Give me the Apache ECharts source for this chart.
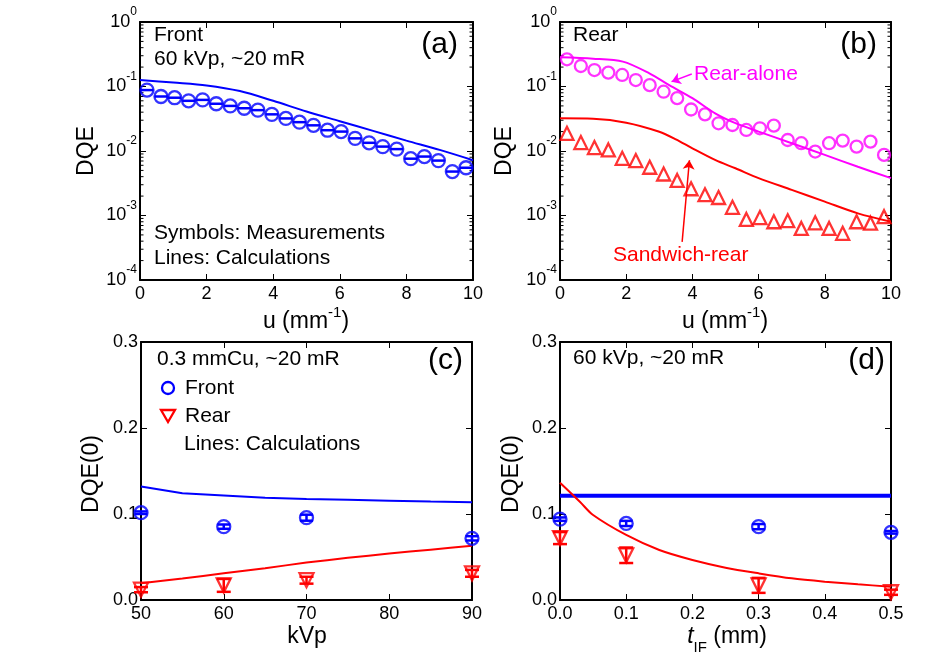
<!DOCTYPE html>
<html><head><meta charset="utf-8">
<script src="https://cdn.jsdelivr.net/npm/echarts@6/dist/echarts.min.js"></script>
<style>html,body{margin:0;padding:0;background:#fff}#c{width:931px;height:667px}</style>
</head><body><div id="c"></div>
<script>
// ---------- data ----------
// panel (a) Front, 60 kVp
const uMeas = [0.21,0.63,1.04,1.46,1.88,2.29,2.71,3.13,3.54,3.96,4.38,4.79,5.21,5.63,6.04,6.46,6.88,7.29,7.71,8.13,8.54,8.96,9.38,9.79];
const frontMeas = [0.088,0.070,0.067,0.060,0.062,0.054,0.050,0.046,0.043,0.037,0.032,0.028,0.025,0.021,0.020,0.0157,0.0134,0.0117,0.0107,0.0076,0.0082,0.0071,0.0048,0.0055];
const uCalcA = [0,1,2,3,4,5,6,7,8,9,10];
const frontCalc = [0.126,0.115,0.104,0.085,0.060,0.041,0.029,0.0205,0.0145,0.0104,0.0072];
// panel (b) Rear
const rearAloneMeas = [0.264,0.208,0.180,0.164,0.151,0.126,0.105,0.083,0.066,0.044,0.037,0.0269,0.0253,0.0212,0.0225,0.0247,0.0148,0.0132,0.0098,0.0132,0.0145,0.0117,0.0140,0.0087];
const sandRearMeas = [0.0188,0.0135,0.0113,0.0104,0.0077,0.0071,0.0056,0.0044,0.0035,0.0026,0.0021,0.0019,0.00134,0.00087,0.00093,0.00080,0.00083,0.00063,0.00077,0.00063,0.00053,0.00080,0.00076,0.00096];
const uCalcRear = [0,1.0,1.9,2.7,3.3,4.0,4.7,5.3,6.0,7.0,8.0,9.0,10];
const rearAloneCalc = [0.283,0.270,0.243,0.160,0.105,0.066,0.038,0.027,0.020,0.0132,0.0087,0.0057,0.0038];
const uCalcSand = [0,1.0,2.0,3.0,3.5,4.0,4.7,5.3,6.0,7.0,8.0,9.0,10];
const sandRearCalc = [0.0321,0.0316,0.0275,0.0199,0.0152,0.0110,0.0072,0.0054,0.0038,0.0025,0.00164,0.00108,0.0008];
// panel (c) vs kVp
const kvpMeas = [50,60,70,90];
const frontC = [0.1015,0.0853,0.0957,0.0717];
const frontCErr = [0.0015,0.0025,0.0035,0.0025];
const rearC = [0.012,0.017,0.023,0.031];
const rearCErr = [0.003,0.0075,0.004,0.004];
const kvpCalc = [50,55,60,65,70,75,80,85,90];
const frontCalcC = [0.132,0.124,0.1215,0.119,0.1175,0.1165,0.1155,0.1145,0.1136];
const rearCalcC = [0.0195,0.025,0.031,0.037,0.0435,0.049,0.054,0.0585,0.063];
// panel (d) vs t_IF
const tMeas = [0,0.1,0.3,0.5];
const frontD = [0.094,0.089,0.0853,0.0787];
const frontDErr = [0.002,0.003,0.003,0.0015];
const rearD = [0.072,0.052,0.017,0.009];
const rearDErr = [0.007,0.009,0.0087,0.003];
const tCalcFront = [0,0.5];
const frontCalcD = [0.1213,0.1213];
const tCalc = [0,0.03,0.05,0.1,0.15,0.2,0.25,0.3,0.35,0.4,0.45,0.5];
const rearCalcD = [0.1364,0.1143,0.0988,0.0756,0.0581,0.0465,0.0376,0.031,0.0252,0.0213,0.0182,0.0155];
// log-axis minor tick positions
const minorMant = [2,3,4,5,6,7,8,9];
const decades = [1e-4,1e-3,1e-2,1e-1];

// ---------- helpers ----------
const F = '"Liberation Sans", Arial, Helvetica, sans-serif';
const BLUE = '#0000FF', RED = '#FF0000', MAG = '#FF00FF';
const zip = (a, b) => a.map((v, i) => [v, b[i]]);
const errRows = (x, y, e) => x.map((v, i) => [v, y[i], y[i] - e[i], y[i] + e[i]]);
const minorTicks = [];
decades.forEach(d => minorMant.forEach(m => minorTicks.push([0, m * d])));

const grids = [
  {left:140, top:22, width:333, height:258},
  {left:560, top:22, width:331, height:258},
  {left:141, top:342, width:331, height:258},
  {left:560, top:342, width:331, height:258}
];

const axLine = {show:true, onZero:false, lineStyle:{color:'#000', width:2}};
const axTick = {show:true, inside:true, length:6, lineStyle:{color:'#000', width:1}};
const lblBase = {fontSize:18, fontFamily:F, color:'#000'};

function xAx(g, min, max, interval, fmt) {
  return [
    {gridIndex:g, type:'value', min, max, interval, position:'bottom', axisLine:axLine, axisTick:axTick, splitLine:{show:false},
     axisLabel:Object.assign({show:true, margin:5, formatter:fmt}, lblBase)},
    {gridIndex:g, type:'value', min, max, interval, position:'top', axisLine:axLine, axisTick:axTick, splitLine:{show:false}, axisLabel:{show:false}}
  ];
}
function yLog(g) {
  return [
    {gridIndex:g, type:'log', logBase:10, min:1e-4, max:1, position:'left', axisLine:axLine, axisTick:axTick, splitLine:{show:false},
     axisLabel:{show:true, margin:3, fontFamily:F, color:'#000',
       formatter: v => '{b|10}{s|' + Math.round(Math.log10(v)) + '}',
       rich:{b:{fontSize:18, fontFamily:F, color:'#000'}, s:{fontSize:12, fontFamily:F, color:'#000', padding:[0,0,20,0]}}}},
    {gridIndex:g, type:'log', logBase:10, min:1e-4, max:1, position:'right', axisLine:axLine, axisTick:axTick, splitLine:{show:false}, axisLabel:{show:false}}
  ];
}
function yLin(g) {
  return [
    {gridIndex:g, type:'value', min:0, max:0.3, interval:0.1, position:'left', axisLine:axLine, axisTick:axTick, splitLine:{show:false},
     axisLabel:Object.assign({show:true, margin:3, formatter: v => v.toFixed(1)}, lblBase)},
    {gridIndex:g, type:'value', min:0, max:0.3, interval:0.1, position:'right', axisLine:axLine, axisTick:axTick, splitLine:{show:false}, axisLabel:{show:false}}
  ];
}

function errSeries(x, y, e, color, ax, hw) {
  return {type:'custom', xAxisIndex:ax, yAxisIndex:ax, data:errRows(x, y, e), encode:{x:0, y:[1,2,3]}, z:3,
    renderItem:(params, api) => {
      const xv = api.value(0);
      const a = api.coord([xv, api.value(2)]), b = api.coord([xv, api.value(3)]);
      const st = {stroke:color, lineWidth:2.5};
      return {type:'group', children:[
        {type:'line', shape:{x1:a[0], y1:a[1], x2:b[0], y2:b[1]}, style:st},
        {type:'line', shape:{x1:a[0]-hw, y1:a[1], x2:a[0]+hw, y2:a[1]}, style:st},
        {type:'line', shape:{x1:b[0]-hw, y1:b[1], x2:b[0]+hw, y2:b[1]}, style:st}
      ]};
    }};
}
// collapsed error bars (horizontal bar through the marker) for panel (a)
function barThrough(x, y, color, ax, hw) {
  return {type:'custom', xAxisIndex:ax, yAxisIndex:ax, data:zip(x, y), z:3,
    renderItem:(params, api) => {
      const p = api.coord([api.value(0), api.value(1)]);
      return {type:'line', shape:{x1:p[0]-hw, y1:p[1], x2:p[0]+hw, y2:p[1]}, style:{stroke:color, lineWidth:2.5}};
    }};
}
function minorSeries(ax, xmin, xmax) {
  return {type:'custom', xAxisIndex:ax, yAxisIndex:ax, data:minorTicks, silent:true, z:1,
    renderItem:(params, api) => {
      const v = api.value(1);
      const L = api.coord([xmin, v]), R = api.coord([xmax, v]);
      const st = {stroke:'#000', lineWidth:1};
      return {type:'group', children:[
        {type:'line', shape:{x1:L[0], y1:L[1], x2:L[0]+3.5, y2:L[1]}, style:st},
        {type:'line', shape:{x1:R[0]-3.5, y1:R[1], x2:R[0], y2:R[1]}, style:st}
      ]};
    }};
}
function lineS(x, y, color, ax, w, smooth) {
  return {type:'line', xAxisIndex:ax, yAxisIndex:ax, data:zip(x, y), showSymbol:false, symbol:'none', smooth:smooth || false,
    lineStyle:{color, width:w}, z:2};
}
function scatS(x, y, color, ax, symbol, size, rot) {
  return {type:'scatter', xAxisIndex:ax, yAxisIndex:ax, data:zip(x, y), symbol, symbolSize:size, symbolRotate:rot || 0,
    itemStyle:{color:'rgba(0,0,0,0)', borderColor:color, borderWidth:2.3}, z:4};
}

function T(text, x, y, o) {
  o = o || {};
  const align = o.align || 'left';
  return {type:'text', x, y, rotation:o.rot || 0, z:10, style:{
    text, fontSize:o.size || 21, fontFamily:F, fill:o.color || '#000',
    align, verticalAlign:'middle', textAlign:align, textVerticalAlign:'middle', rich:o.rich}};
}
const supRich = {n:{fontSize:23, fontFamily:F, fill:'#000', color:'#000'}, s:{fontSize:15, fontFamily:F, fill:'#000', color:'#000', padding:[0,0,18,0]}};
const subRich = {i:{fontSize:23, fontFamily:F, fontStyle:'italic', color:'#000'}, n:{fontSize:23, fontFamily:F, color:'#000'}, sub:{fontSize:15, fontFamily:F, color:'#000', padding:[22,0,0,0]}};

const sandArrow = [[{coord:[3.69, 0.00039]}, {coord:[3.91, 0.0072]}]];
const aloneArrow = [[{coord:[3.98, 0.156]}, {coord:[3.37, 0.119]}]];

const option = {
  animation:false,
  backgroundColor:'#fff',
  grid:grids,
  xAxis:[].concat(xAx(0,0,10,2), xAx(1,0,10,2), xAx(2,50,90,10), xAx(3,0,0.5,0.1, v => v.toFixed(1))),
  yAxis:[].concat(yLog(0), yLog(1), yLin(2), yLin(3)),
  series:[
    minorSeries(0, 0, 10), minorSeries(2, 0, 10),
    // (a)
    lineS(uCalcA, frontCalc, BLUE, 0, 2, 0.3),
    scatS(uMeas, frontMeas, BLUE, 0, 'circle', 13),
    barThrough(uMeas, frontMeas, BLUE, 0, 6.5),
    // (b)
    Object.assign(lineS(uCalcRear, rearAloneCalc, MAG, 2, 2, 0.3), {markLine:{silent:true, symbol:['none','arrow'], symbolSize:9, label:{show:false},
      lineStyle:{color:MAG, width:1.5, type:'solid'}, data:aloneArrow}}),
    scatS(uMeas, rearAloneMeas, MAG, 2, 'circle', 12),
    Object.assign(lineS(uCalcSand, sandRearCalc, RED, 2, 2, 0.3), {markLine:{silent:true, symbol:['none','arrow'], symbolSize:9, label:{show:false},
      lineStyle:{color:RED, width:1.5, type:'solid'}, data:sandArrow}}),
    scatS(uMeas, sandRearMeas, RED, 2, 'triangle', 13),
    // (c)
    lineS(kvpCalc, frontCalcC, BLUE, 4, 2),
    lineS(kvpCalc, rearCalcC, RED, 4, 2, 0.2),
    errSeries(kvpMeas, frontC, frontCErr, BLUE, 4, 6.5),
    errSeries(kvpMeas, rearC, rearCErr, RED, 4, 7),
    scatS(kvpMeas, frontC, BLUE, 4, 'circle', 13),
    scatS(kvpMeas, rearC, RED, 4, 'triangle', 14, 180),
    // (d)
    lineS(tCalcFront, frontCalcD, BLUE, 6, 4),
    lineS(tCalc, rearCalcD, RED, 6, 2, 0.3),
    errSeries(tMeas, frontD, frontDErr, BLUE, 6, 6.5),
    errSeries(tMeas, rearD, rearDErr, RED, 6, 7),
    scatS(tMeas, frontD, BLUE, 6, 'circle', 13),
    scatS(tMeas, rearD, RED, 6, 'triangle', 14, 180)
  ],
  graphic:[
    // axis titles
    T('DQE', 87, 151, {size:23, rot:Math.PI/2, align:'center'}),
    T('DQE', 505, 151, {size:23, rot:Math.PI/2, align:'center'}),
    T('DQE(0)', 92, 474, {size:23, rot:Math.PI/2, align:'center'}),
    T('DQE(0)', 512, 474, {size:23, rot:Math.PI/2, align:'center'}),
    T('{n|u (mm}{s|-1}{n|)}', 306, 322, {align:'center', rich:supRich}),
    T('{n|u (mm}{s|-1}{n|)}', 725, 322, {align:'center', rich:supRich}),
    T('kVp', 307, 637, {size:23, align:'center'}),
    T('{i|t}{sub|IF}{n| (mm)}', 727, 637, {align:'center', rich:subRich}),
    // (a)
    T('Front', 154, 35), T('60 kVp, ~20 mR', 154, 59),
    T('Symbols: Measurements', 154, 233), T('Lines: Calculations', 154, 258),
    T('(a)', 458, 45, {size:30, align:'right'}),
    // (b)
    T('Rear', 573, 35), T('(b)', 877, 45, {size:30, align:'right'}),
    T('Rear-alone', 694, 74, {color:MAG}),
    T('Sandwich-rear', 613, 255, {color:RED}),
    // (c)
    T('0.3 mmCu, ~20 mR', 157, 359),
    {type:'circle', z:10, shape:{cx:168, cy:388, r:6}, style:{fill:'none', stroke:BLUE, lineWidth:2.3}},
    T('Front', 185, 388),
    {type:'polygon', z:10, shape:{points:[[161,410],[175,410],[168,422]]}, style:{fill:'none', stroke:RED, lineWidth:2.3}},
    T('Rear', 185, 416),
    T('Lines: Calculations', 184, 444),
    T('(c)', 463, 361, {size:30, align:'right'}),
    // (d)
    T('60 kVp, ~20 mR', 573, 358),
    T('(d)', 885, 361, {size:30, align:'right'})
  ]
};
const chart = echarts.init(document.getElementById('c'), null, {renderer:'canvas'});
chart.setOption(option);
</script></body></html>
